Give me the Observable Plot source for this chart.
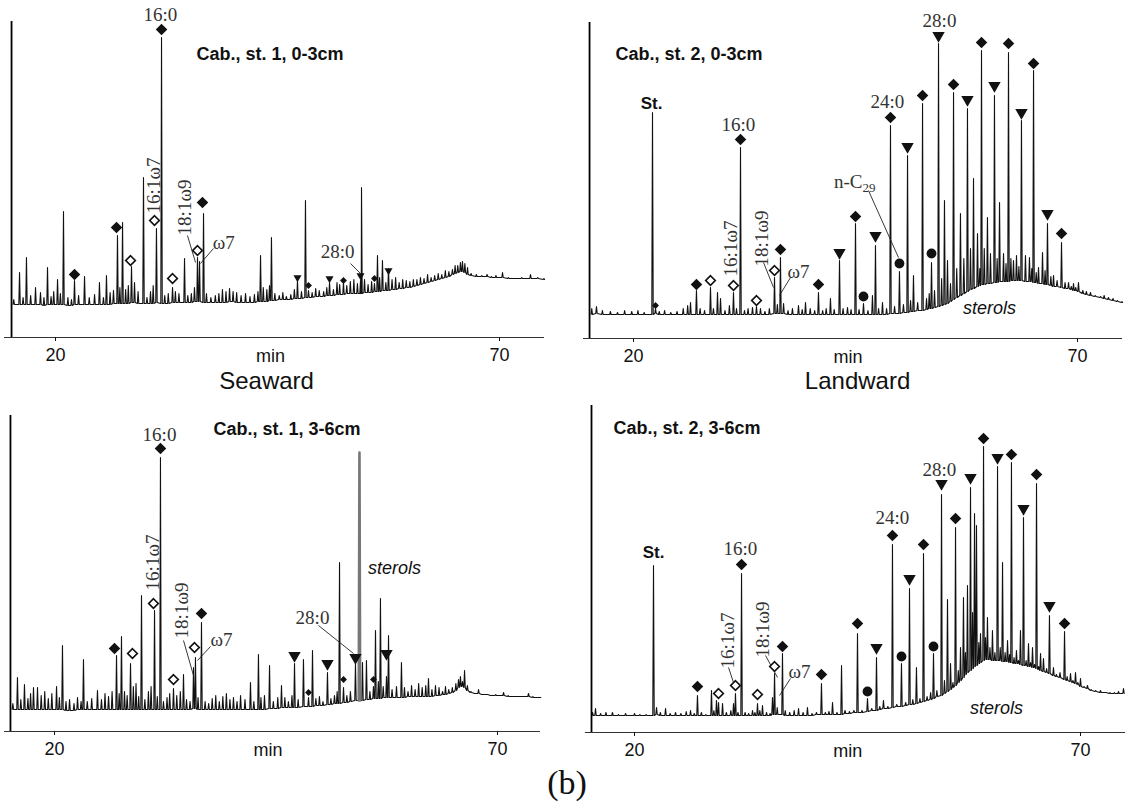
<!DOCTYPE html>
<html><head><meta charset="utf-8">
<script src="https://cdn.jsdelivr.net/npm/d3@7"></script>
<script src="https://cdn.jsdelivr.net/npm/@observablehq/plot@0.6"></script>
<style>
body{margin:0;background:#fff;}
#wrap{position:relative;width:1129px;height:810px;}
#wrap svg{position:absolute;left:0;top:0;}
</style></head><body><div id="wrap"></div>
<script>
// ---------- DATA (retention time in min, detector response in arbitrary units) ----------
const X_TICKS = [20, 70];

// peaks: [time, apex, local baseline]
const tlPeaks = [[15.3,38,33],[15.95,65,33],[16.35,40,33],[16.73,80,33],[17.2,42,33],[17.75,50,33],[18.31,45,33],[18.7,40,32],[19.10,70,33],[19.5,41,33],[19.8,46,33],[20.23,58,33],[20.55,44,33],[20.90,126,33],[21.4,40,32],[21.8,38,32],[22.14,57,33],[22.6,42,33],[23.27,61,33],[23.8,40,33],[24.4,43,33],[24.95,55,33],[25.4,40,33],[25.74,62,33],[26.15,45,33],[26.53,47,34],[26.98,102,34],[27.25,50,34],[27.55,115,34],[27.9,48,34],[28.2,52,34],[28.56,71,35],[28.9,55,35],[29.3,46,34],[29.91,160,34],[30.3,40,34],[30.7,46,34],[31.0,52,34],[31.37,109,35],[31.94,300,34],[32.3,42,34],[32.7,44,34],[33.18,50,35],[33.5,46,35],[33.9,44,35],[34.53,79,35],[34.9,42,35],[35.3,44,35],[35.65,50,36],[35.99,80,36],[36.22,76,36],[36.67,124,35],[37.0,44,35],[37.5,40,35],[38.0,42,35],[38.4,44,35],[38.8,48,35],[39.2,46,35],[39.6,49,36],[40.0,46,36],[40.4,45,35],[40.9,42,35],[41.4,44,35],[41.9,41,35],[42.4,43,35],[42.8,46,36],[43.09,82,36],[43.4,50,36],[43.8,48,36],[44.1,52,37],[44.32,100,37],[44.7,44,37],[45.2,42,38],[45.6,45,38],[46.0,41,38],[46.5,43,38],[46.9,48,39],[47.25,57,39],[47.7,46,39],[48.15,137,40],[48.49,47,40],[48.9,45,40],[49.3,49,41],[49.7,47,41],[50.2,46,41],[50.55,50,42],[50.86,55,42],[51.3,48,42],[51.7,55,43],[52.0,53,43],[52.43,55,43],[52.8,52,44],[53.2,56,44],[53.6,58,44],[54.0,54,44],[54.35,57,44],[54.46,150,44],[54.8,58,45],[55.2,53,45],[55.6,56,45],[55.92,54,46],[56.26,82,46],[56.5,60,46],[56.82,77,47],[57.2,55,47],[57.50,69,47],[57.9,58,48],[58.3,60,48],[58.7,55,49],[59.1,58,49],[59.5,57,50],[59.9,56,50],[60.3,58,51],[60.7,58,52],[61.1,60,53],[61.5,59,54],[61.9,63,55],[62.3,60,56],[62.7,62,57],[63.1,64,58],[63.5,63,59],[63.9,67,60],[64.3,66,61],[64.7,68,63],[65.0,72,64],[65.3,72,65],[65.6,75,66],[65.83,76,66],[66.1,74,65],[66.4,70,63],[66.8,64,62],[67.4,63,61],[68.0,62,61],[68.6,63,61],[69.1,61,60],[69.6,62,60],[70.34,65,60],[71.0,60,59],[71.8,59,59],[72.5,60,59],[73.49,63,59],[74.3,60,59],[75.0,59,58]];

const trPeaks = [[15.3,30,24],[15.83,32,25],[16.5,28,24],[17.4,27,24],[18.2,26,24],[19.0,28,24],[19.8,27,24],[20.5,28,24],[21.2,26,24],[22.14,226,24],[22.48,30,25],[22.9,27,24],[23.5,28,24],[24.2,26,24],[24.9,27,24],[25.6,30,24],[26.1,33,24],[26.42,36,24],[27.09,48,24],[27.5,30,24],[28.0,28,24],[28.67,51,24],[29.0,30,24],[29.46,46,24],[29.80,40,24],[30.3,28,24],[30.8,33,24],[31.26,46,24],[31.6,30,24],[32.05,191,24],[32.5,28,24],[32.9,30,24],[33.40,31,24],[33.85,32,24],[34.30,30,24],[34.8,27,24],[35.3,30,24],[35.88,61,25],[36.2,34,25],[36.55,81,25],[36.9,35,25],[37.4,28,24],[37.9,30,24],[38.58,33,24],[39.0,29,24],[39.37,36,24],[39.9,30,24],[40.4,28,24],[40.83,46,24],[41.3,28,24],[41.7,30,24],[42.18,40,24],[42.6,29,24],[43.20,78,24],[43.6,30,24],[44.10,31,24],[44.5,29,24],[45.00,115,24],[45.4,29,24],[45.90,35,24],[46.4,28,24],[46.91,43,24],[47.25,93,24],[47.6,30,24],[48.04,36,24],[48.5,30,24],[48.94,213,25],[49.4,32,25],[49.95,67,25],[50.4,34,26],[50.86,183,26],[51.2,38,27],[51.53,63,27],[52.0,36,28],[52.55,235,28],[53.0,40,29],[53.3,45,30],[53.56,76,30],[53.9,48,31],[54.35,295,32],[54.7,60,33],[55.02,138,34],[55.36,78,35],[55.7,55,37],[56.04,246,39],[56.4,70,41],[56.82,125,43],[57.2,80,45],[57.61,230,47],[57.95,90,49],[58.29,160,50],[58.74,105,52],[59.0,70,53],[59.19,288,54],[59.5,90,54],[59.86,121,55],[60.20,85,55],[60.65,243,56],[60.95,80,56],[61.22,136,57],[61.67,85,57],[61.95,75,57],[62.23,286,57],[62.5,80,58],[62.79,78,58],[63.13,83,58],[63.40,72,58],[63.69,218,58],[64.14,83,57],[64.59,81,57],[64.85,70,57],[65.05,268,56],[65.35,66,56],[65.61,71,55],[66.06,86,55],[66.35,68,54],[66.62,115,54],[67.0,62,53],[67.30,63,52],[67.7,58,52],[68.20,96,51],[68.6,56,50],[68.99,56,50],[69.3,52,49],[69.55,55,48],[69.8,51,48],[70.11,56,47],[70.6,48,45],[71.0,47,44],[71.46,46,43],[72.0,43,42],[72.6,42,41],[73.0,43,40],[73.49,41,39],[74.0,40,38],[74.50,38,37],[75.0,37,36]];

const blPeaks = [[15.3,28,22],[15.82,54,22],[16.2,32,22],[16.61,47,22],[17.0,33,22],[17.3,38,22],[17.63,44,22],[18.08,44,22],[18.5,36,22],[18.9,40,22],[19.3,33,22],[19.7,38,22],[20.23,45,22],[20.55,34,22],[20.90,86,22],[21.3,30,21],[21.7,32,21],[22.2,28,21],[22.6,34,22],[23.0,30,22],[23.27,72,22],[23.7,30,22],[24.2,33,22],[24.85,41,22],[25.3,32,22],[25.7,38,22],[26.1,35,22],[26.5,40,22],[27.00,76,22],[27.3,38,22],[27.56,95,22],[27.9,40,22],[28.2,36,22],[28.58,68,22],[28.9,45,22],[29.2,48,22],[29.5,35,22],[29.82,136,22],[30.2,32,22],[30.6,40,22],[30.9,45,22],[31.29,121,22],[31.6,35,22],[31.96,274,22],[32.3,30,22],[32.7,34,22],[33.0,38,22],[33.43,43,22],[33.8,36,22],[34.2,40,22],[34.56,57,22],[34.9,32,22],[35.3,30,22],[35.69,64,23],[35.91,74,23],[36.2,34,22],[36.59,109,22],[37.0,30,22],[37.4,28,22],[37.8,33,22],[38.2,36,22],[38.6,30,22],[39.0,35,22],[39.4,38,22],[39.8,32,22],[40.2,34,22],[40.6,30,22],[41.0,36,22],[41.5,32,22],[42.12,49,22],[42.5,30,22],[43.02,77,22],[43.3,34,22],[43.7,36,22],[44.27,66,23],[44.7,30,23],[45.2,34,23],[45.62,46,24],[46.0,34,24],[46.4,30,24],[46.8,36,24],[47.09,68,24],[47.5,32,24],[48.10,72,25],[48.67,34,25],[49.12,81,25],[49.5,33,26],[49.9,35,26],[50.3,30,26],[50.81,59,27],[51.2,33,27],[51.6,36,28],[51.9,40,28],[52.17,169,28],[52.62,44,29],[53.0,36,29],[53.4,40,30],[53.97,68,31],[54.42,279,31],[54.76,69,31],[55.21,71,32],[55.6,40,32],[56.00,45,33],[56.23,101,33],[56.55,50,33],[56.79,133,33],[57.1,45,34],[57.47,55,34],[57.70,96,34],[58.1,42,34],[58.6,45,34],[59.16,69,34],[59.5,44,34],[59.9,40,35],[60.3,46,35],[60.7,42,35],[61.1,48,35],[61.5,44,35],[61.9,46,35],[62.21,53,35],[62.6,42,35],[63.0,46,36],[63.4,44,36],[63.8,40,37],[64.13,45,37],[64.5,42,38],[64.9,44,39],[65.3,48,41],[65.6,52,44],[65.82,55,45],[66.05,50,45],[66.28,61,44],[66.6,46,41],[67.0,40,39],[67.5,38,38],[67.86,42,38],[68.3,37,37],[68.8,37,37],[69.3,36,36],[69.8,37,36],[70.2,36,36],[70.68,39,36],[71.2,36,35],[71.7,35,35],[72.3,35,35],[72.8,35,35],[73.50,38,35],[74.0,35,34],[74.8,34,34]];
const blSterolPeak = [[54.42,279,31]];

const brPeaks = [[15.3,20,17],[15.63,24,17],[16.2,19,17],[16.8,20,17],[17.53,20,17],[18.2,18,17],[19.0,19,17],[20.0,19,17],[20.6,18,17],[21.3,18,17],[22.13,167,17],[22.47,25,18],[22.9,20,17],[23.48,24,17],[24.0,19,17],[24.6,20,17],[25.2,19,17],[25.8,21,17],[26.28,22,17],[26.7,19,17],[27.06,37,17],[27.5,20,17],[28.0,18,17],[28.63,42,17],[28.9,22,17],[29.19,32,17],[29.42,30,17],[29.87,29,17],[30.3,20,17],[30.8,22,17],[31.10,29,17],[31.32,39,17],[31.6,20,17],[32.00,159,17],[32.4,20,17],[32.8,19,17],[33.23,22,17],[33.5,20,17],[33.79,29,17],[34.05,22,17],[34.35,27,17],[34.8,20,17],[35.2,19,17],[35.47,35,18],[35.70,59,18],[36.0,25,18],[36.59,79,18],[36.9,22,17],[37.4,20,17],[37.9,22,17],[38.39,24,17],[38.9,20,17],[39.39,25,17],[39.9,19,17],[40.4,20,18],[40.96,49,18],[41.4,20,18],[41.8,21,18],[42.20,30,18],[42.7,20,18],[43.21,67,18],[43.6,22,19],[44.1,21,19],[44.6,22,20],[45.00,99,20],[45.5,22,20],[46.12,34,21],[46.6,24,22],[47.13,75,22],[47.5,26,23],[47.91,32,24],[48.4,26,24],[48.92,188,25],[49.4,28,26],[49.93,69,26],[50.4,30,27],[50.83,144,28],[51.2,33,28],[51.61,65,29],[52.0,34,30],[52.40,179,31],[52.8,36,32],[53.2,40,33],[53.52,79,34],[53.9,42,36],[54.42,238,37],[54.75,52,39],[55.09,133,41],[55.43,69,43],[55.7,50,45],[55.99,205,47],[56.3,62,50],[56.55,85,52],[56.88,135,55],[57.1,80,58],[57.33,147,60],[57.67,245,62],[57.9,120,64],[58.12,219,66],[58.34,207,67],[58.6,90,69],[58.79,99,70],[59.13,286,72],[59.35,95,73],[59.57,115,73],[59.85,85,73],[60.13,102,72],[60.40,80,72],[60.70,266,72],[61.0,85,72],[61.26,170,71],[61.55,80,71],[61.82,92,71],[62.05,78,70],[62.26,270,70],[62.55,75,69],[62.82,82,69],[63.05,72,69],[63.27,102,68],[63.61,215,67],[63.9,72,67],[64.17,89,66],[64.40,70,66],[64.62,85,65],[64.85,68,65],[65.07,249,64],[65.30,66,63],[65.52,79,62],[65.85,74,61],[66.2,64,60],[66.52,117,59],[66.97,65,57],[67.3,58,56],[67.7,60,55],[68.21,101,53],[68.5,56,52],[68.88,59,51],[69.15,52,50],[69.44,60,49],[69.7,50,48],[70.00,54,46],[70.4,46,45],[70.78,47,44],[71.2,43,42],[71.7,42,41],[72.24,42,40],[72.8,40,40],[73.3,40,39],[73.8,40,39],[74.26,41,39],[74.82,44,39]];

// compound markers: [time, response, class]
const tlMarkers = [[22.14,63,"fd"],[26.87,110,"fd"],[28.45,77,"od"],[31.15,117,"od"],[31.94,308,"fd"],[33.18,59,"od"],[35.99,87,"od"],[36.55,135,"fd"],[47.25,60,"st"],[48.49,52,"sd"],[50.86,59,"st"],[52.43,57,"sd"],[54.35,62,"st"],[55.92,59,"sd"],[57.50,67,"st"]];
const trMarkers = [[22.48,33,"sd"],[27.09,54,"fd"],[28.67,58,"od"],[31.26,53,"od"],[32.05,199,"fd"],[33.85,38,"od"],[35.88,68,"od"],[36.55,89,"fd"],[40.83,54,"fd"],[43.20,86,"tri"],[45.00,122,"fd"],[45.90,42,"circ"],[47.25,103,"tri"],[48.94,221,"fd"],[49.95,75,"circ"],[50.86,192,"tri"],[52.55,243,"fd"],[53.56,85,"circ"],[54.35,303,"tri"],[56.04,254,"fd"],[57.61,239,"tri"],[59.19,296,"fd"],[60.65,253,"tri"],[62.23,295,"fd"],[63.69,226,"tri"],[65.05,275,"fd"],[66.62,125,"tri"],[68.20,105,"fd"]];
const blMarkers = [[26.77,83,"fd"],[28.80,78,"od"],[31.17,128,"od"],[31.96,283,"fd"],[33.43,52,"od"],[35.80,84,"od"],[36.59,118,"fd"],[47.09,76,"tri"],[48.67,39,"sd"],[50.81,68,"tri"],[52.62,52,"sd"],[53.97,74,"tri"],[56.00,52,"sd"],[57.47,78,"tri"]];
const brMarkers = [[27.06,46,"fd"],[29.42,39,"od"],[31.32,47,"od"],[32.00,168,"fd"],[33.79,38,"od"],[35.70,66,"od"],[36.59,86,"fd"],[40.96,58,"fd"],[45.00,109,"fd"],[46.12,41,"circ"],[47.13,85,"tri"],[48.92,197,"fd"],[49.93,76,"circ"],[50.83,154,"tri"],[52.40,188,"fd"],[53.52,86,"circ"],[54.42,249,"tri"],[55.99,214,"fd"],[57.67,255,"tri"],[59.13,294,"fd"],[60.70,275,"tri"],[62.26,278,"fd"],[63.61,224,"tri"],[65.07,258,"fd"],[66.52,127,"tri"],[68.21,109,"fd"]];

// annotations in data coordinates: [time, response, text]
const tlTitle = "Cab., st. 1, 0-3cm", trTitle = "Cab., st. 2, 0-3cm";
const blTitle = "Cab., st. 1, 3-6cm", brTitle = "Cab., st. 2, 3-6cm";
const tlLabels = [[31.82,317,"16:0"],[38.95,89,"ω7"],[51.76,80,"28:0"]];
const tlRotLabels = [[31.04,152,"16:1ω7"],[34.53,130,"18:1ω9"]];
const tlLeaders = [[34.86,102,35.77,75],[37.79,89,36.33,74],[53.22,74,54.35,64]];
const trLabels = [[31.82,208,"16:0"],[38.58,61,"ω7"],[48.60,231,"24:0"],[54.46,312,"28:0"]];
const trRotLabels = [[30.92,90,"16:1ω7"],[34.41,100,"18:1ω9"]];
const trLeaders = [[34.64,76,35.77,51],[37.68,61,36.44,43],[46.46,148,49.84,81]];
const trStd = [[22.03,230,"St."]];
const trSterols = [[60.09,25,"sterols"]];
const trAlkane = [[45.79,151,"n-C","29"]];
const blLabels = [[31.85,291,"16:0"],[38.85,86,"ω7"],[49.12,108,"28:0"]];
const blRotLabels = [[31.06,169,"16:1ω7"],[34.33,121,"18:1ω9"]];
const blLeaders = [[34.56,91,35.69,56],[37.61,85,36.14,71],[49.80,106,53.75,78]];
const blSterols = [[58.37,158,"sterols"]];
const brLabels = [[31.88,178,"16:0"],[38.50,55,"ω7"],[48.92,209,"24:0"],[54.19,257,"28:0"]];
const brRotLabels = [[30.43,92,"16:1ω7"],[34.35,103,"18:1ω9"]];
const brLeaders = [[30.54,65,31.32,44],[34.69,77,36.03,55],[37.49,54,36.26,37]];
const brStd = [[22.13,175,"St."]];
const brSterols = [[60.58,19,"sterols"]];
const sideLabels = ["Seaward", "Landward"];

// ---------- RENDERING ----------
const SANS = "Liberation Sans, Arial, sans-serif";
const SERIF = "Liberation Serif, Times New Roman, serif";
const INK = "#111";

function trace(peaks) {
  const w = 0.08, pts = [];
  for (const [t, a, f] of peaks) pts.push([t - w, f], [t, a], [t + w, f]);
  pts.sort((p, q) => p[0] - q[0]);
  return pts;
}

const MARK = {
  fd:   {symbol: "diamond2", r: 5.2, fill: INK, stroke: "none"},
  od:   {symbol: "diamond2", r: 4.3, fill: "white", stroke: INK, strokeWidth: 1.7},
  sd:   {symbol: "diamond2", r: 3.1, fill: INK, stroke: "none"},
  tri:  {symbol: "triangle", r: 4.6, rotate: 180, fill: INK, stroke: "none"},
  st:   {symbol: "triangle", r: 3.0, rotate: 180, fill: INK, stroke: "none"},
  circ: {symbol: "circle", r: 4.9, fill: INK, stroke: "none"}
};

const fx = d => d[0], fy = d => d[1];

function panel(P) {
  const marks = [
    Plot.ruleY([0], {x1: () => P.ext[0], x2: () => P.ext[1], stroke: "#333", strokeWidth: 1.2}),
    Plot.axisX({ticks: X_TICKS, tickSize: 4, tickPadding: 7, label: null, fontSize: 18, fontFamily: SANS, fill: INK}),
    Plot.text(["min"], {x: () => P.minX, y: () => -24, text: d => d, fontSize: 18, fontFamily: SANS, fill: INK, textAnchor: "middle", lineAnchor: "bottom"}),
    Plot.line(trace(P.peaks), {x: fx, y: fy, stroke: INK, strokeWidth: 1.1}),
    Plot.ruleX([P.ext[2]], {x: d => d, y1: () => 0, y2: () => P.ymax, stroke: "#000", strokeWidth: 1.8})
  ];
  if (P.extraPeak) marks.push(Plot.line(trace(P.extraPeak), {x: fx, y: fy, stroke: "#777", strokeWidth: 2.6}));
  marks.push(Plot.link(P.leaders, {x1: d => d[0], y1: d => d[1], x2: d => d[2], y2: d => d[3], stroke: "#222", strokeWidth: 0.9}));
  for (const k of Object.keys(MARK)) {
    const sub = P.markers.filter(m => m[2] === k);
    if (sub.length) marks.push(Plot.dot(sub, {x: fx, y: fy, ...MARK[k]}));
  }
  const serif = {x: fx, y: fy, text: d => d[2], fontFamily: SERIF, fontSize: 19, fill: "#333"};
  marks.push(Plot.text(P.labels, {...serif, textAnchor: "middle", lineAnchor: "bottom"}));
  marks.push(Plot.text(P.rot, {...serif, rotate: -90, textAnchor: "middle", lineAnchor: "middle"}));
  marks.push(Plot.text([P.title], {x: () => P.titlePos[0], y: () => P.titlePos[1], text: d => d, fontFamily: SANS, fontWeight: "bold", fontSize: 18, fill: INK, textAnchor: "start", lineAnchor: "bottom"}));
  if (P.std) marks.push(Plot.text(P.std, {x: fx, y: fy, text: d => d[2], fontFamily: SANS, fontWeight: "bold", fontSize: 17, fill: INK, textAnchor: "middle", lineAnchor: "bottom"}));
  if (P.sterols) marks.push(Plot.text(P.sterols, {x: fx, y: fy, text: d => d[2], fontFamily: SANS, fontStyle: "italic", fontSize: 18, fill: INK, textAnchor: "middle", lineAnchor: "bottom"}));
  if (P.alkane) {
    marks.push(Plot.text(P.alkane, {x: fx, y: fy, text: d => d[2], fontFamily: SERIF, fontSize: 19, fill: "#333", textAnchor: "end", lineAnchor: "bottom"}));
    marks.push(Plot.text(P.alkane, {x: fx, y: fy, text: d => d[3], fontFamily: SERIF, fontSize: 13, fill: "#333", textAnchor: "start", lineAnchor: "bottom", dy: 4}));
  }
  if (P.side) marks.push(Plot.text([P.side], {x: () => P.sidePos[0], y: () => P.sidePos[1], text: d => d, fontFamily: SANS, fontSize: 24, fill: INK, textAnchor: "middle", lineAnchor: "bottom"}));

  return Plot.plot({
    width: 1129, height: 810,
    marginTop: 0, marginLeft: 0, marginRight: 0, marginBottom: 810 - P.axisY,
    x: {domain: [20, 70], range: P.xr, axis: null},
    y: {domain: [0, P.ymax], range: [P.axisY, P.topY], axis: null},
    style: {background: "transparent", overflow: "visible", fontFamily: SANS, fontSize: "18px", color: INK},
    marks
  });
}

const panels = [
  {peaks: tlPeaks, markers: tlMarkers, labels: tlLabels, rot: tlRotLabels, leaders: tlLeaders,
   title: tlTitle, titlePos: [35.88, 278], xr: [55, 499], axisY: 337, topY: 21, ymax: 316,
   ext: [14.26, 75.07, 15.05], minX: 44.2, side: sideLabels[0], sidePos: [43.77, -51]},
  {peaks: trPeaks, markers: trMarkers, labels: trLabels, rot: trRotLabels, leaders: trLeaders,
   title: trTitle, titlePos: [17.97, 279], xr: [633, 1077], axisY: 338, topY: 22, ymax: 316,
   ext: [14.37, 75.07, 15.05], minX: 44.15, std: trStd, sterols: trSterols, alkane: trAlkane,
   side: sideLabels[1], sidePos: [45.23, -50]},
  {peaks: blPeaks, markers: blMarkers, labels: blLabels, rot: blRotLabels, leaders: blLeaders,
   title: blTitle, titlePos: [37.95, 297], xr: [54, 497], axisY: 731, topY: 415, ymax: 316,
   ext: [14.36, 74.85, 15.03], minX: 44.1, sterols: blSterols, extraPeak: blSterolPeak},
  {peaks: brPeaks, markers: brMarkers, labels: brLabels, rot: brRotLabels, leaders: brLeaders,
   title: brTitle, titlePos: [17.65, 299], xr: [634, 1080], axisY: 732, topY: 405, ymax: 327,
   ext: [14.5, 75.05, 15.18], minX: 43.9, std: brStd, sterols: brSterols}
];

const wrap = document.getElementById("wrap");
for (const P of panels) wrap.appendChild(panel(P));

const ns = "http://www.w3.org/2000/svg";
const svg = document.createElementNS(ns, "svg");
svg.setAttribute("width", 1129); svg.setAttribute("height", 810);
const t = document.createElementNS(ns, "text");
t.setAttribute("x", 567); t.setAttribute("y", 794);
t.setAttribute("text-anchor", "middle");
t.setAttribute("font-family", SERIF); t.setAttribute("font-size", 34); t.setAttribute("fill", INK);
t.textContent = "(b)";
svg.appendChild(t);
wrap.appendChild(svg);
</script></body></html>
